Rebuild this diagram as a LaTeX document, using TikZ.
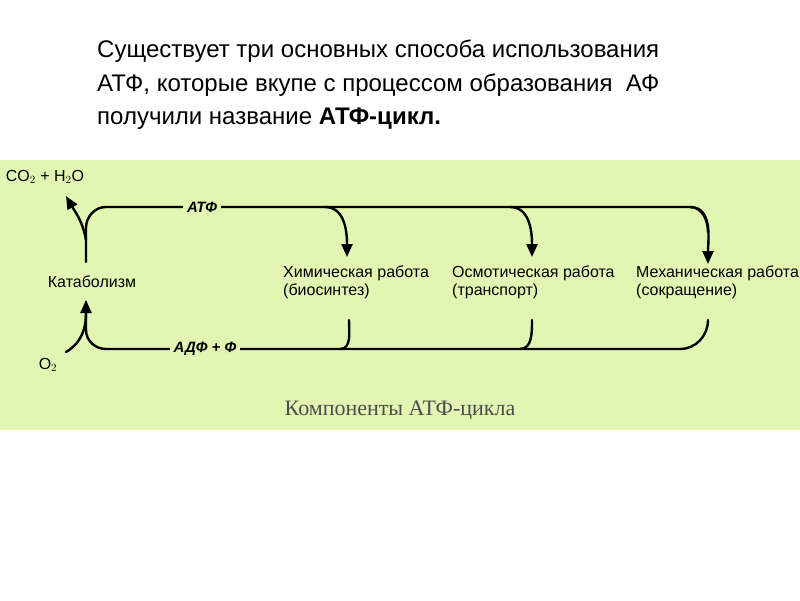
\documentclass[tikz,border=0pt]{standalone}
\usepackage{fontspec}
\setmainfont{Liberation Sans}
\newfontfamily\serifcap{Liberation Serif}
\usetikzlibrary{arrows.meta,positioning}
\definecolor{panel}{RGB}{226,246,180}
\begin{document}
\begin{tikzpicture}[x=1pt,y=-1pt,
    flow/.style={line width=2.4pt,line cap=round},
    tip/.style={flow,-{Triangle[length=13pt,width=11pt]}},
    lbl/.style={font=\fontsize{16}{18}\selectfont,align=left,inner sep=0pt},
    mol/.style={font=\fontsize{15}{17}\selectfont\bfseries\itshape,fill=panel,inner sep=4pt}
  ]
    \useasboundingbox (0,0) rectangle (800,600);
    \fill[white] (0,0) rectangle (800,600);
    \fill[panel] (0,160) rectangle (800,430);

    \node[anchor=north west,align=left,inner sep=0pt,font=\fontsize{24}{33.5}\selectfont] (title) at (97,40)
      {Существует три основных способа использования\\
       АТФ, которые вкупе с процессом образования~ АФ\\
       получили название \textbf{АТФ-цикл.}};

    %% cycle lines
    \draw[flow] (86,262) -- (86,228) to[out=90,in=180] (106,207) -- (690,207)
      to[out=0,in=90] (708,232);
    \draw[tip] (690,207) to[out=0,in=90] (708,264);
    \draw[tip] (325,207) to[out=0,in=90] (347,257);
    \draw[tip] (510,207) to[out=0,in=90] (532,257);
    \draw[flow] (86,302) -- (86,330) to[out=-90,in=180] (106,349) -- (680,349);
    \draw[flow] (349,320) to[out=-90,in=0] (340,349);
    \draw[flow] (532,320) to[out=-90,in=0] (520,349);
    \draw[flow] (708,320) to[out=-90,in=0] (680,349);

    \node[mol] (atp) at (202,207) {АТФ};
    \node[mol] (adp) at (205,349) {АДФ + Ф};
    \node[lbl] (katab) at (92,282) {Катаболизм};
    \node[lbl,anchor=west] (chem) at (283,282) {Химическая работа\\(биосинтез)};
    \node[lbl,anchor=west] (osm) at (452,282) {Осмотическая работа\\(транспорт)};
    \node[lbl,anchor=west] (mech) at (636,282) {Механическая работа\\(сокращение)};

    %% in and out of catabolism
    \node[lbl] (co2) at (45,177) {CO$_2$ + H$_2$O};
    \node[lbl] (o2) at (48,365) {O$_2$};
    \draw[tip] (86,240) to[out=100,in=-60] (66,196);
    \draw[tip] (66,352) to[out=30,in=-90] (86,300);

    \node[font=\serifcap\fontsize{22}{24}\selectfont,text=black!70] (cap) at (400,410)
      {Компоненты АТФ-цикла};
\end{tikzpicture}
\end{document}
